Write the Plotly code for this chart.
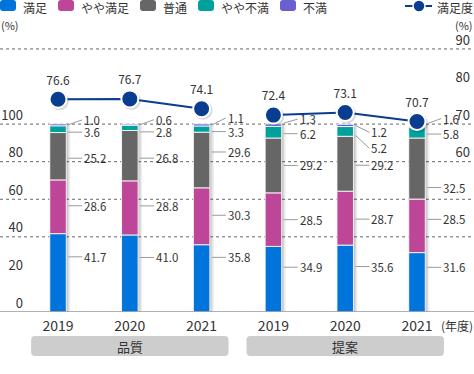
import numpy as np
import plotly.graph_objects as go

# ---------------- data ----------------
groups = ["品質", "提案"]
years = ["2019", "2020", "2021"]
series_names = ["満足", "やや満足", "普通", "やや不満", "不満"]

manzoku = [41.7, 41.0, 35.8, 34.9, 35.6, 31.6]
yaya_manzoku = [28.6, 28.8, 30.3, 28.5, 28.7, 28.5]
futsu = [25.2, 26.8, 29.6, 29.2, 29.2, 32.5]
yaya_fuman = [3.6, 2.8, 3.3, 6.2, 5.2, 5.8]
fuman = [1.0, 0.6, 1.1, 1.3, 1.2, 1.6]
satisfaction = [76.6, 76.7, 74.1, 72.4, 73.1, 70.7]
line_name = "満足度"

left_ticks = [0, 20, 40, 60, 80, 100]
right_ticks = [60, 70, 80, 90]
grid_values = [40, 60, 80, 100, 140]

# ---------------- style ----------------
colors = ["#0074DA", "#BE4698", "#666666", "#00A19A", "#6A5FD0"]
line_color = "#0A3D8F"
text_color = "#333333"
FONT = "Noto Sans CJK JP"

W, H = 474, 374
ML, MR, MT, MB = 25, 0, 14, 62
PW, PH = W - ML - MR, H - MT - MB
PX_PER_UNIT = 1.879
LEFT_MAX = PH / PX_PER_UNIT
RIGHT_MIN = 20
RIGHT_MAX = RIGHT_MIN + LEFT_MAX / 2
XR = [-0.46, 5.794]
BAR_W = 0.23
UX = PW / (XR[1] - XR[0])  # px per x unit

# per-label pixel tweaks (y shift of whole label, diagonal rise)
label_dy = [
    [-16, -1, 2, 3, 0],
    [-16, -2, 2.5, 4, 0],
    [-21, -1, -8, 2.5, 0],
    [-12, 0, 0, 1.5, -2],
    [-12, 1, 1.5, 4, 0],
    [-15, -6.5, 19, 1.5, -2],
]
label_ay = [
    [0, 0, 0, 0, -5],
    [0, 0, 0, 0, -5],
    [0, 0, 0, 0, -7],
    [0, 0, 0, 0, -4],
    [0, 0, 0, 13, 7],
    [0, 0, 0, 0, -5],
]


def px_x(px):
    return (px - ML) / PW


def px_y(py):
    return (MT + PH - py) / PH


values = np.array([manzoku, yaya_manzoku, futsu, yaya_fuman, fuman])  # (5, 6)
tops = np.cumsum(values, axis=0)
bases = tops - values
totals = tops[-1]
x = np.arange(len(manzoku))

fig = go.Figure()

# soft shadow behind bars
for off_px, alpha in [(4, 0.07), (2.5, 0.09), (1.2, 0.10)]:
    fig.add_trace(go.Bar(
        x=x, y=totals, base=0, width=BAR_W, offset=-BAR_W / 2 + off_px / UX,
        marker=dict(color=f"rgba(0,0,0,{alpha})", line=dict(width=0)),
        showlegend=False, hoverinfo="skip"))

for k, name in enumerate(series_names):
    fig.add_trace(go.Bar(
        x=x, y=values[k], base=bases[k], width=BAR_W, offset=-BAR_W / 2,
        name=name, marker=dict(color=colors[k], line=dict(color="rgba(255,255,255,0.85)", width=1)),
        showlegend=False))

# satisfaction line, one per group
n_per = len(years)
for g in range(len(groups)):
    xs = x[g * n_per:(g + 1) * n_per]
    ys = satisfaction[g * n_per:(g + 1) * n_per]
    fig.add_trace(go.Scatter(
        x=xs + 1.5 / UX, y=np.array(ys) - 0.4, yaxis="y2", mode="markers",
        marker=dict(size=19, color="rgba(0,0,0,0.15)"), showlegend=False, hoverinfo="skip"))
    fig.add_trace(go.Scatter(
        x=xs, y=ys, yaxis="y2", mode="lines+markers+text",
        name=line_name, showlegend=False,
        line=dict(color=line_color, width=2),
        marker=dict(size=17, color=line_color, line=dict(color="white", width=2)),
        text=[f"{v:.1f}" for v in ys], textposition="top center",
        textfont=dict(size=12, color=text_color, family=FONT)))

annotations = []
shapes = []

# value labels with leader lines
for i in range(len(x)):
    for k in range(len(series_names)):
        mid = (bases[k][i] + tops[k][i]) / 2
        annotations.append(dict(
            x=x[i] + BAR_W / 2 + 2 / UX, y=mid, xref="x", yref="y",
            text=f"{values[k][i]:.1f}", showarrow=True, arrowhead=0, arrowwidth=1,
            arrowcolor="#9a9a9a", ax=14, ay=label_ay[i][k], xanchor="left", yanchor="middle",
            yshift=-label_dy[i][k], borderpad=1,
            font=dict(size=11.5, color=text_color, family=FONT)))

# gridlines
for v in grid_values:
    shapes.append(dict(type="line", xref="paper", yref="y", x0=px_x(0), x1=1, y0=v, y1=v,
                       line=dict(color="#666666", width=1, dash="3px,3px"), layer="below"))
# baseline
shapes.append(dict(type="line", xref="paper", yref="y", x0=px_x(0), x1=1, y0=0, y1=0,
                   line=dict(color="#999999", width=1.5), layer="above"))


def rounded_rect(x0, x1, y0, y1, rx, ry):
    return (f"M{x0 + rx},{y0} L{x1 - rx},{y0} Q{x1},{y0} {x1},{y0 + ry} "
            f"L{x1},{y1 - ry} Q{x1},{y1} {x1 - rx},{y1} L{x0 + rx},{y1} "
            f"Q{x0},{y1} {x0},{y1 - ry} L{x0},{y0 + ry} Q{x0},{y0} {x0 + rx},{y0} Z")


def note(xv, yv, text, size, xanchor="center", xref="paper", yref="paper"):
    return dict(x=xv, y=yv, xref=xref, yref=yref, text=text, showarrow=False,
                xanchor=xanchor, yanchor="middle", borderpad=0,
                font=dict(size=size, color=text_color, family=FONT))


# group boxes
for g, gname in enumerate(groups):
    c = float(np.mean(x[g * n_per:(g + 1) * n_per]))
    hw = 1.375
    shapes.append(dict(type="path", xref="x", yref="paper",
                       path=rounded_rect(c - hw, c + hw, px_y(356), px_y(336), 4 / UX, 4 / PH),
                       fillcolor="#CDCDCD", line=dict(width=0)))
    annotations.append(note(c, px_y(346), gname, 13, xref="x"))

# unit labels
annotations.append(note(1, px_y(325), "(年度)", 12, xanchor="right"))
annotations.append(note(px_x(0), px_y(25), "(%)", 11, xanchor="left"))
annotations.append(note(1, px_y(25), "(%)", 11, xanchor="right"))

# custom legend
cursor = 0
for k, name in enumerate(series_names):
    shapes.append(dict(type="path", xref="paper", yref="paper",
                       path=rounded_rect(px_x(cursor), px_x(cursor + 16), px_y(11), px_y(0), 3 / PW, 3 / PH),
                       fillcolor=colors[k], line=dict(width=0)))
    annotations.append(note(px_x(cursor + 22), px_y(7), name, 12, xanchor="left"))
    cursor += 23 + 12 * len(name) + 11

shapes.append(dict(type="line", xref="paper", yref="paper", x0=px_x(405), x1=px_x(432),
                   y0=px_y(6), y1=px_y(6), line=dict(color=line_color, width=2)))
shapes.append(dict(type="circle", xref="paper", yref="paper", xsizemode="pixel", ysizemode="pixel",
                   xanchor=px_x(419), yanchor=px_y(6), x0=-6, x1=6, y0=-6, y1=6,
                   fillcolor=line_color, line=dict(color="white", width=1.5)))
annotations.append(note(1, px_y(7), line_name, 12, xanchor="right"))

fig.update_layout(
    width=W, height=H, margin=dict(l=ML, r=MR, t=MT, b=MB),
    paper_bgcolor="white", plot_bgcolor="white",
    barmode="overlay", showlegend=False,
    font=dict(family=FONT, color=text_color),
    xaxis=dict(range=XR, tickvals=x, ticktext=years * len(groups), showgrid=False,
               zeroline=False, showline=False, ticks="", tickfont=dict(size=14, color=text_color),
               ticklabelstandoff=4),
    yaxis=dict(range=[0, LEFT_MAX], tickvals=left_ticks, showgrid=False, zeroline=False,
               showline=False, ticks="", tickfont=dict(size=13, color=text_color),
               ticklabelshift=-9, ticklabelstandoff=1),
    yaxis2=dict(range=[RIGHT_MIN, RIGHT_MAX], tickvals=right_ticks, overlaying="y", side="right",
                showgrid=False, zeroline=False, showline=False, ticks="",
                ticklabelposition="inside", ticklabelshift=-9, ticklabelstandoff=1,
                tickfont=dict(size=13, color=text_color)),
    annotations=annotations, shapes=shapes,
)

fig.write_html("out.html", config={"displayModeBar": False},
               post_script="document.body.style.margin='0';document.body.style.overflow='hidden';")
